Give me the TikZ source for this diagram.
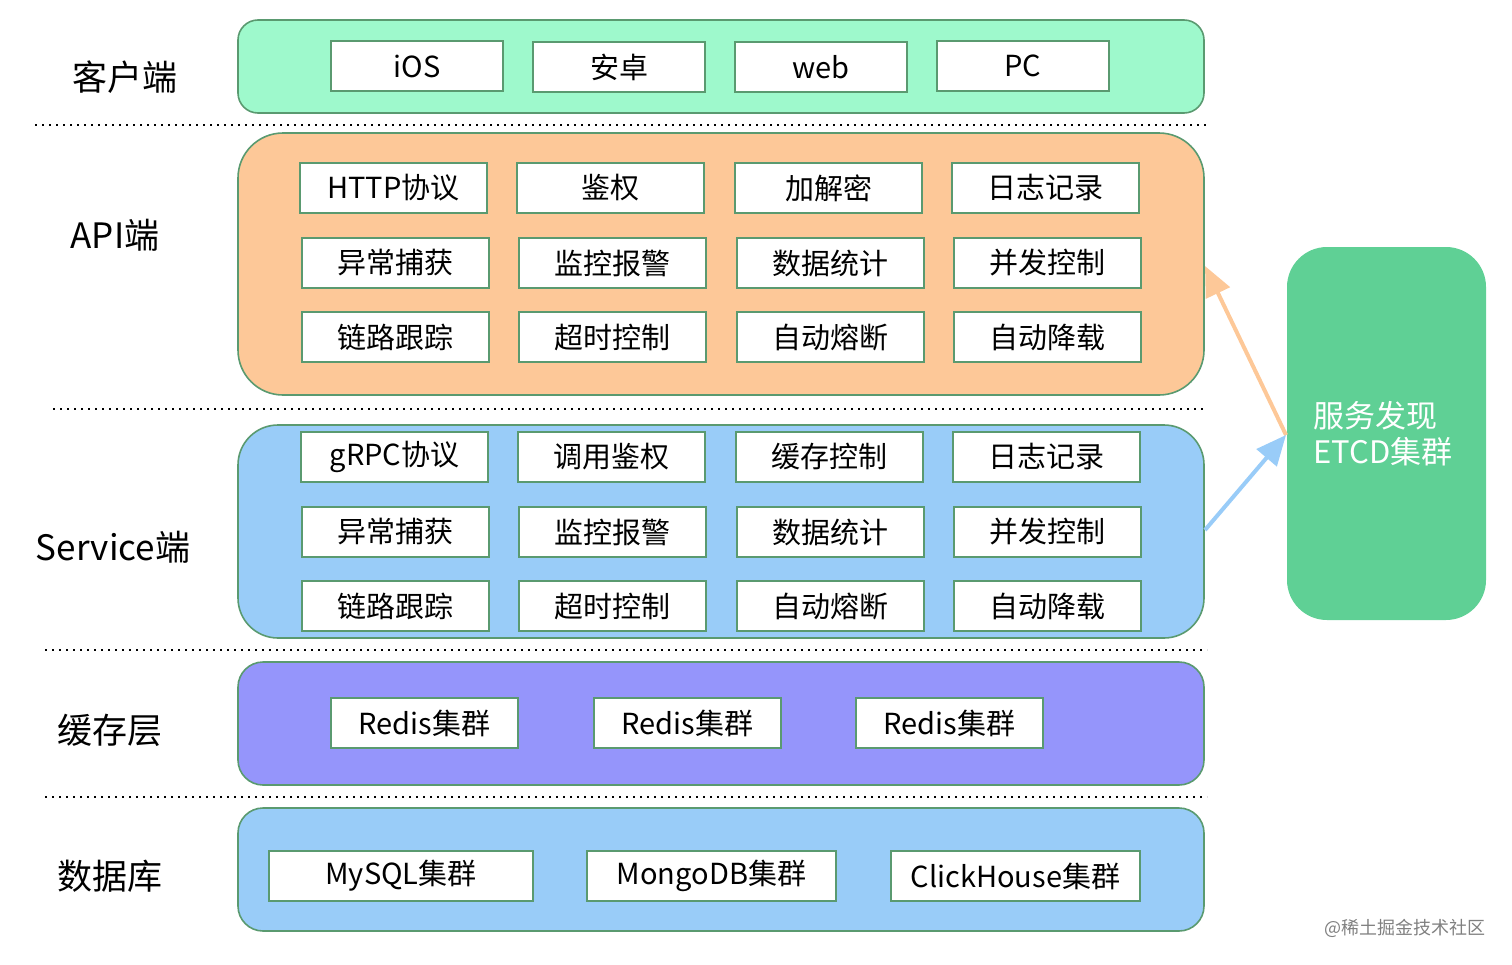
\documentclass[tikz,border=0pt]{standalone}
\usepackage{fontspec}
\setmainfont{Noto Sans CJK SC}
\usetikzlibrary{arrows.meta}
\definecolor{edgegreen}{HTML}{5A9A70}
\definecolor{mint}{HTML}{9EF9CC}
\definecolor{peach}{HTML}{FDC898}
\definecolor{skyblue}{HTML}{99CCF8}
\definecolor{lavender}{HTML}{9595FB}
\definecolor{etcdgreen}{HTML}{5FD095}
\tikzset{
  band/.style={draw=edgegreen, line width=1.6pt},
  cell/.style={draw=edgegreen, fill=white, line width=1.8pt, inner sep=0pt, font=\fontsize{29}{32}\selectfont},
  layerlabel/.style={font=\fontsize{35}{38}\selectfont},
  sep/.style={line width=1.6pt, dash pattern=on 1.6pt off 5.4pt},
}
\newcommand{\cellbox}[6]{\node[cell, minimum width=#4-#2, minimum height=#5-#3] (#1) at ({(#2+#4)/2},{(#3+#5)/2}) {#6};}
\begin{document}
\begin{tikzpicture}[x=1pt,y=-1pt]
\useasboundingbox (0,0) rectangle (1512,964);
% bands
\draw[band, fill=mint, rounded corners=20] (238,20) rectangle (1204,113);
\draw[band, fill=peach, rounded corners=45] (238,133) rectangle (1204,395);
\draw[band, fill=skyblue, rounded corners=40] (238,425) rectangle (1204,638);
\draw[band, fill=lavender, rounded corners=25] (238,662) rectangle (1204,785);
\draw[band, fill=skyblue, rounded corners=25] (238,808) rectangle (1204,931);
% separators
\draw[sep] (35,125) -- (1210,125);
\draw[sep] (53,409) -- (1207,409);
\draw[sep] (45,650) -- (1207,650);
\draw[sep] (45,797) -- (1207,797);
% layer labels
\node[layerlabel] (l1) at (125,77) {客户端};
\node[layerlabel] (l2) at (115,235) {API端};
\node[layerlabel] (l3) at (113,547) {Service端};
\node[layerlabel] (l4) at (110,730) {缓存层};
\node[layerlabel] (l5) at (110,876) {数据库};
% client
\cellbox{c1}{331}{41}{503}{91}{iOS}
\cellbox{c2}{533}{42}{705}{92}{安卓}
\cellbox{c3}{735}{42}{907}{92}{web}
\cellbox{c4}{937}{41}{1109}{91}{PC}
% API
\cellbox{a11}{300}{163}{487}{213}{HTTP协议}
\cellbox{a12}{517}{163}{704}{213}{鉴权}
\cellbox{a13}{735}{163}{922}{213}{加解密}
\cellbox{a14}{952}{163}{1139}{213}{日志记录}
\cellbox{a21}{302}{238}{489}{288}{异常捕获}
\cellbox{a22}{519}{238}{706}{288}{监控报警}
\cellbox{a23}{737}{238}{924}{288}{数据统计}
\cellbox{a24}{954}{238}{1141}{288}{并发控制}
\cellbox{a31}{302}{312}{489}{362}{链路跟踪}
\cellbox{a32}{519}{312}{706}{362}{超时控制}
\cellbox{a33}{737}{312}{924}{362}{自动熔断}
\cellbox{a34}{954}{312}{1141}{362}{自动降载}
% Service
\cellbox{s11}{301}{432}{488}{482}{gRPC协议}
\cellbox{s12}{518}{432}{705}{482}{调用鉴权}
\cellbox{s13}{736}{432}{923}{482}{缓存控制}
\cellbox{s14}{953}{432}{1140}{482}{日志记录}
\cellbox{s21}{302}{507}{489}{557}{异常捕获}
\cellbox{s22}{519}{507}{706}{557}{监控报警}
\cellbox{s23}{737}{507}{924}{557}{数据统计}
\cellbox{s24}{954}{507}{1141}{557}{并发控制}
\cellbox{s31}{302}{581}{489}{631}{链路跟踪}
\cellbox{s32}{519}{581}{706}{631}{超时控制}
\cellbox{s33}{737}{581}{924}{631}{自动熔断}
\cellbox{s34}{954}{581}{1141}{631}{自动降载}
% cache
\cellbox{r1}{331}{698}{518}{748}{Redis集群}
\cellbox{r2}{594}{698}{781}{748}{Redis集群}
\cellbox{r3}{856}{698}{1043}{748}{Redis集群}
% db
\cellbox{d1}{269}{851}{533}{901}{MySQL集群}
\cellbox{d2}{587}{851}{836}{901}{MongoDB集群}
\cellbox{d3}{891}{851}{1140}{901}{ClickHouse集群}
% ETCD
\node[fill=etcdgreen, rounded corners=40, minimum width=199, minimum height=373, inner sep=0] (etcd) at (1386.5,433.5) {};
\node[text=white, align=left, anchor=west, inner sep=0pt, font=\fontsize{31}{36}\selectfont] (etcdtxt) at (1313,434) {服务发现\\ETCD集群};
\coordinate (apiR) at (1205,266);
\coordinate (svcR) at (1205,530);
\coordinate (etcdL) at (1286,435);
\draw[peach, line width=4pt, -{Triangle[length=30pt,width=26pt]}] (etcdL) -- (apiR);
\draw[skyblue, line width=4pt, -{Triangle[length=30pt,width=26pt]}] (svcR) -- (etcdL);
% watermark
\node[text=gray, font=\fontsize{18}{20}\selectfont] (wm) at (1405,928) {@稀土掘金技术社区};
\end{tikzpicture}
\end{document}
